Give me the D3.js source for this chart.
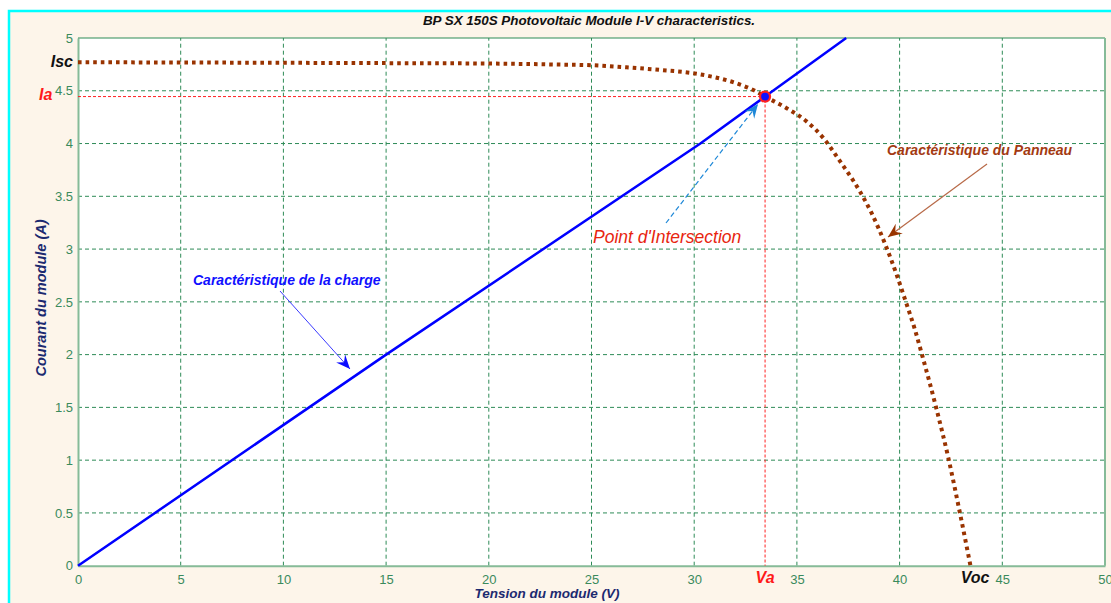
<!DOCTYPE html>
<html lang="en">
<head>
<meta charset="utf-8">
<title>BP SX 150S I-V</title>
<script src="https://cdn.jsdelivr.net/npm/d3@7"></script>
<style>
body { margin: 0; background: #fff; }
svg text { font-family: "Liberation Sans", Arial, sans-serif; }
</style>
</head>
<body>
<script>
// tick labels
var xTicks = [0, 5, 10, 15, 20, 25, 30, 35, 40, 45, 50];
var yTicks = [0, 0.5, 1, 1.5, 2, 2.5, 3, 3.5, 4, 4.5, 5];

// panel I-V curve
var pvV = [0, 5, 10, 15, 20, 23.5, 25, 26.7, 28.3, 30, 31, 32, 33, 33.45, 34.5, 35.5, 36.3, 37.0, 38.07, 38.64, 39.29, 39.86, 40.26, 40.75, 41.08, 41.8, 42.37, 42.94, 43.45];
var pvI = [4.77, 4.768, 4.765, 4.762, 4.758, 4.748, 4.742, 4.722, 4.698, 4.665, 4.628, 4.575, 4.495, 4.445, 4.335, 4.205, 4.05, 3.86, 3.545, 3.34, 3.05, 2.755, 2.525, 2.234, 2.007, 1.482, 1.024, 0.497, 0];

// load line
var loadV = [0, 15, 30.3, 33.45, 37.4];
var loadI = [0, 2, 4, 4.445, 5];

// operating point
var Va = 33.45, Ia = 4.445, Isc = 4.77, Voc = 43.45;

var W = 1111, H = 603;
var svg = d3.select("body").append("svg").attr("width", W).attr("height", H);

var x = d3.scaleLinear().domain([0, 50]).range([78, 1105]);
var y = d3.scaleLinear().domain([0, 5]).range([565.7, 38]);

// figure background + cyan frame
svg.append("rect").attr("x", 9).attr("y", 11).attr("width", W).attr("height", H)
  .attr("fill", "#fdf5ea").attr("stroke", "#00ffff").attr("stroke-width", 2.5);

svg.append("rect").attr("x", x(0)).attr("y", y(5)).attr("width", x(50) - x(0)).attr("height", y(0) - y(5))
  .attr("fill", "#fff");

var defs = svg.append("defs");
function arrowHead(id, color) {
  defs.append("marker").attr("id", id)
    .attr("viewBox", "-14 -7 16 14").attr("refX", 0).attr("refY", 0)
    .attr("markerWidth", 16).attr("markerHeight", 14)
    .attr("markerUnits", "userSpaceOnUse").attr("orient", "auto")
    .append("path").attr("d", "M0,0 L-14,-6 L-9,0 L-14,6 Z").attr("fill", color);
}
arrowHead("ahBlue", "#0a0aff");
arrowHead("ahBrown", "#993300");
arrowHead("ahCyan", "#1e88d8");

// grid
var grid = svg.append("g").attr("stroke", "#2e8b57").attr("stroke-dasharray", "4,3").attr("stroke-width", 1);
grid.selectAll(".vx").data(xTicks.slice(1, -1)).enter().append("line")
  .attr("x1", d => x(d)).attr("x2", d => x(d)).attr("y1", y(0)).attr("y2", y(5));
grid.selectAll(".hy").data(yTicks.slice(1, -1)).enter().append("line")
  .attr("y1", d => y(d)).attr("y2", d => y(d)).attr("x1", x(0)).attr("x2", x(50));

// axes
var fmt = d3.format("~g");
var xAxis = svg.append("g").attr("transform", "translate(0," + y(0) + ")")
  .call(d3.axisBottom(x).tickValues(xTicks).tickFormat(fmt).tickSize(0).tickPadding(9));
var yAxis = svg.append("g").attr("transform", "translate(" + x(0) + ",0)")
  .call(d3.axisLeft(y).tickValues(yTicks).tickFormat(fmt).tickSize(0).tickPadding(5));
[xAxis, yAxis].forEach(function(a) {
  a.select(".domain").attr("stroke", "#86bb98").attr("stroke-width", 2);
  a.selectAll("text").attr("fill", "#3a8a5c").attr("font-size", 13)
    .attr("font-family", "'Liberation Sans', Arial, sans-serif");
});
svg.append("line").attr("x1", x(0)).attr("x2", x(50)).attr("y1", y(5)).attr("y2", y(5))
  .attr("stroke", "#2e8b57").attr("stroke-width", 1.2);
svg.append("line").attr("x1", x(50)).attr("x2", x(50)).attr("y1", y(5)).attr("y2", y(0))
  .attr("stroke", "#86bb98").attr("stroke-width", 2);

// red guide lines to the operating point
svg.append("path").attr("d", "M" + x(0) + "," + y(Ia) + "H" + x(Va) + "V" + y(0))
  .attr("fill", "none").attr("stroke", "#ff2020").attr("stroke-width", 1).attr("stroke-dasharray", "3,2");

// load line
var line = d3.line().x(d => x(d[0])).y(d => y(d[1]));
svg.append("path").datum(d3.zip(loadV, loadI)).attr("d", line)
  .attr("fill", "none").attr("stroke", "#0000ff").attr("stroke-width", 2.5);

// panel curve
var curve = d3.line().x(d => x(d[0])).y(d => y(d[1])).curve(d3.curveMonotoneX);
svg.append("path").datum(d3.zip(pvV, pvI)).attr("d", curve)
  .attr("fill", "none").attr("stroke", "#993300").attr("stroke-width", 4).attr("stroke-dasharray", "3.6,4");

// intersection marker
svg.append("circle").attr("cx", x(Va)).attr("cy", y(Ia)).attr("r", 5)
  .attr("fill", "#1010ff").attr("stroke", "#ff2020").attr("stroke-width", 2.2);

// annotation arrows
svg.append("line").attr("x1", 280).attr("y1", 291).attr("x2", 350).attr("y2", 369)
  .attr("stroke", "#3a3aff").attr("stroke-width", 1).attr("marker-end", "url(#ahBlue)");
svg.append("line").attr("x1", 987).attr("y1", 164).attr("x2", 888).attr("y2", 237)
  .attr("stroke", "#b86a48").attr("stroke-width", 1.2).attr("marker-end", "url(#ahBrown)");
svg.append("line").attr("x1", 666).attr("y1", 223).attr("x2", 758).attr("y2", 104)
  .attr("stroke", "#1e88d8").attr("stroke-width", 1.2).attr("stroke-dasharray", "5,3").attr("marker-end", "url(#ahCyan)");

// texts
function label(t, px, py, o) {
  var e = svg.append("text").attr("x", px).attr("y", py).text(t)
    .attr("font-size", o.size).attr("font-style", "italic")
    .attr("font-weight", o.weight || "bold").attr("fill", o.color)
    .attr("text-anchor", o.anchor || "start");
  return e;
}
label("BP SX 150S Photovoltaic Module I-V characteristics.", 589, 25, {size: 13.4, color: "#111", anchor: "middle"});
label("Isc", 73, 67, {size: 16, color: "#111", anchor: "end"});
label("Ia", 39, 100, {size: 16, color: "#ff1a1a"});
label("Va", x(Va), 583, {size: 16, color: "#ff1a1a", anchor: "middle"});
label("Voc", 975, 583, {size: 16, color: "#111", anchor: "middle"});
label("Caractéristique de la charge", 193, 285, {size: 14, color: "#1010ff"});
label("Caractéristique du Panneau", 887, 155, {size: 14, color: "#a33a12"});
label("Point d'Intersection", 593, 243, {size: 17.5, color: "#e8250f", weight: "normal"});
label("Tension du module (V)", 547, 598, {size: 13.5, color: "#1c2a70", anchor: "middle"});
svg.append("text").attr("transform", "translate(46,298) rotate(-90)")
  .attr("text-anchor", "middle").attr("font-size", 14.5).attr("font-style", "italic")
  .attr("font-weight", "bold").attr("fill", "#1c2a70").text("Courant du module (A)");
</script>
</body>
</html>
